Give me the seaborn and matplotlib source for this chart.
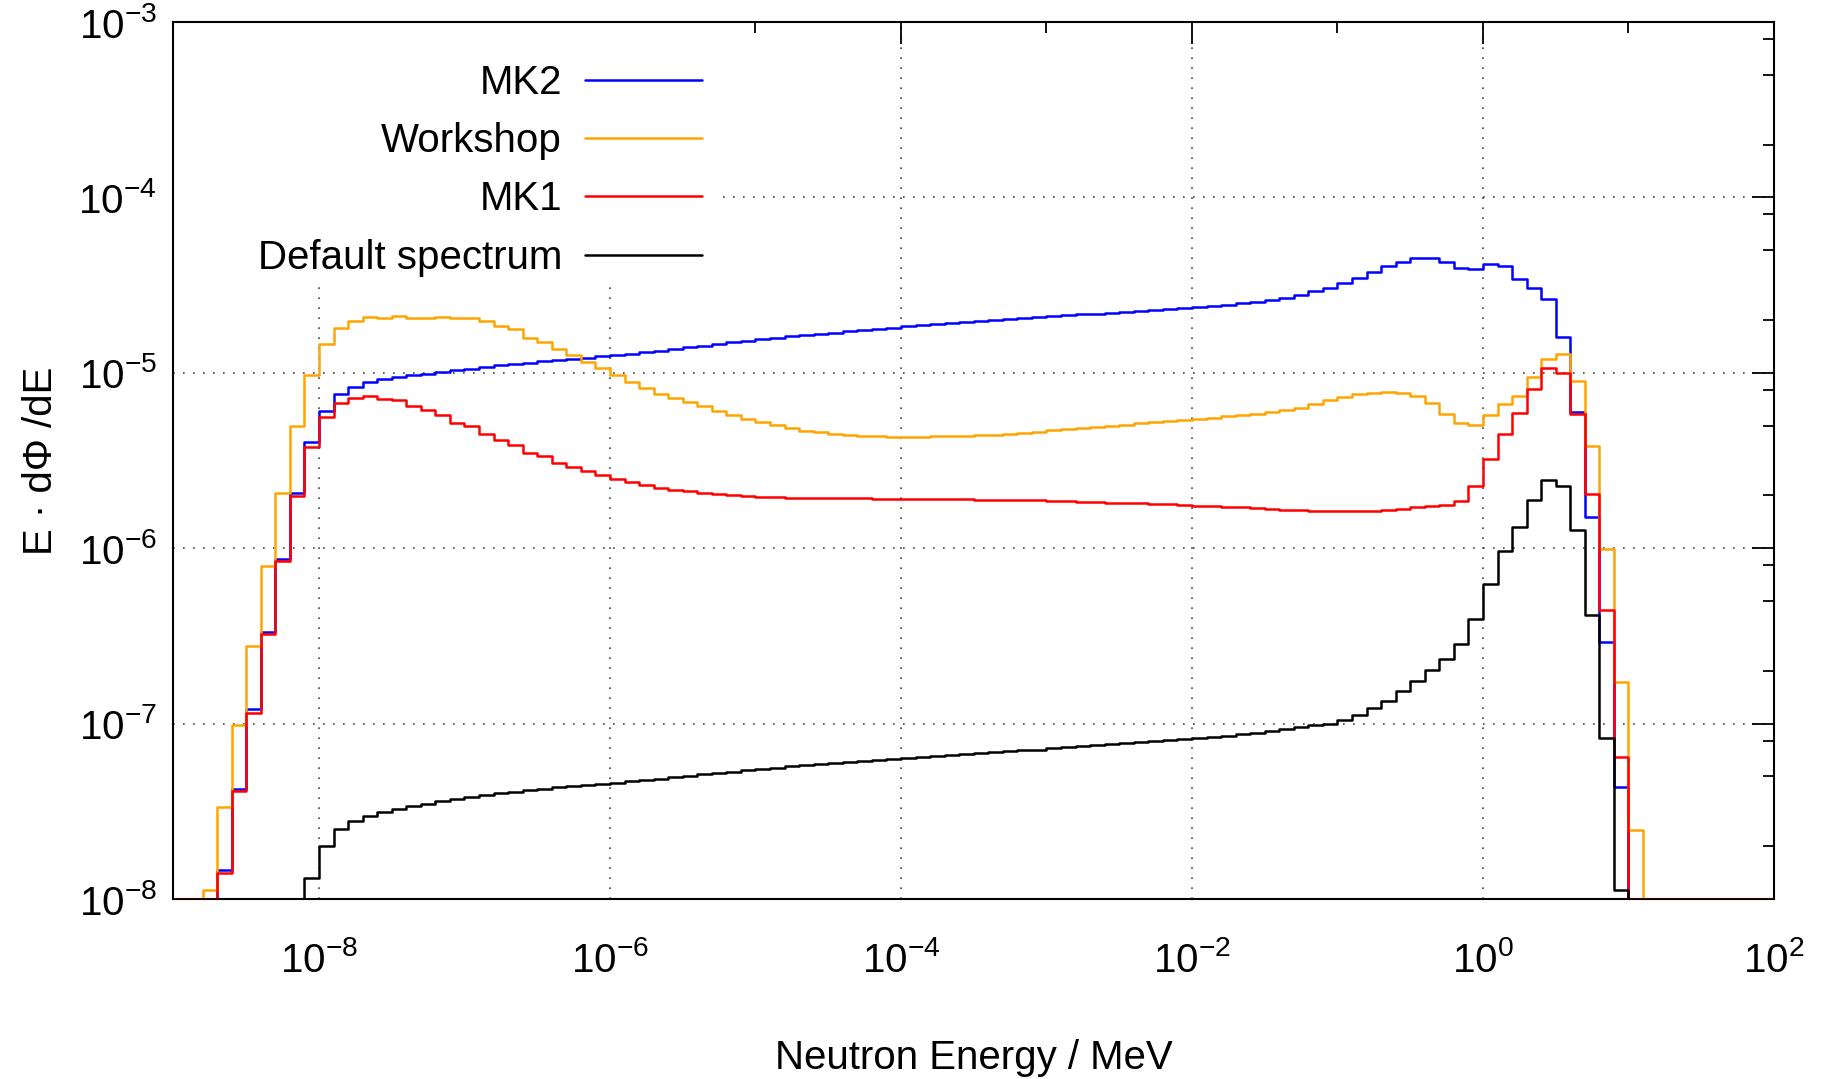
import numpy as np
import pandas as pd
import matplotlib
matplotlib.use("Agg")
import matplotlib.pyplot as plt
from matplotlib.patches import Rectangle
from matplotlib.ticker import FixedLocator, FuncFormatter, NullFormatter
import seaborn as sns

# ---------------- data ----------------
# 10 logarithmic bins per decade from 1e-9 MeV to 1e2 MeV (left edges + final edge)
energy_bin_edges = np.logspace(-9, 2, 111)

series_names = ["MK2", "Workshop", "MK1", "Default spectrum"]
series_colors = ["#0000ff", "#ffa500", "#ff0000", "#000000"]

# log10 of E*dPhi/dE per bin (-8 = on the lower border)
mk2_log10 = [
    -8, -8, -8, -7.832, -7.375, -6.918, -6.478, -6.060, -5.685, -5.397,
    -5.216, -5.123, -5.079, -5.055, -5.038, -5.024, -5.014, -5.005, -4.995, -4.986,
    -4.976, -4.966, -4.957, -4.950, -4.942, -4.935, -4.928, -4.921, -4.913, -4.906,
    -4.899, -4.892, -4.882, -4.873, -4.863, -4.853, -4.846, -4.837, -4.827, -4.817,
    -4.810, -4.800, -4.793, -4.786, -4.779, -4.772, -4.764, -4.757, -4.750, -4.743,
    -4.736, -4.728, -4.721, -4.714, -4.709, -4.702, -4.697, -4.694, -4.690, -4.682,
    -4.677, -4.672, -4.667, -4.662, -4.657, -4.652, -4.647, -4.642, -4.637, -4.632,
    -4.627, -4.619, -4.612, -4.602, -4.594, -4.584, -4.571, -4.556, -4.536, -4.514,
    -4.489, -4.459, -4.426, -4.391, -4.366, -4.348, -4.348, -4.368, -4.401, -4.406,
    -4.381, -4.393, -4.464, -4.514, -4.581, -4.794, -5.226, -5.822, -6.536, -7.363,
    -8, -8, -8, -8, -8, -8, -8, -8, -8, -8,
]

workshop_log10 = [
    -8, -8, -7.947, -7.478, -7.010, -6.558, -6.101, -5.683, -5.303, -5.014,
    -4.837, -4.745, -4.702, -4.683, -4.685, -4.678, -4.685, -4.685, -4.683, -4.690,
    -4.690, -4.707, -4.736, -4.750, -4.803, -4.822, -4.863, -4.899, -4.938, -4.974,
    -5.014, -5.053, -5.087, -5.120, -5.142, -5.168, -5.192, -5.219, -5.243, -5.264,
    -5.281, -5.300, -5.317, -5.329, -5.339, -5.349, -5.356, -5.361, -5.363, -5.365,
    -5.368, -5.365, -5.363, -5.361, -5.358, -5.356, -5.353, -5.348, -5.341, -5.336,
    -5.328, -5.323, -5.316, -5.308, -5.301, -5.296, -5.288, -5.283, -5.276, -5.271,
    -5.263, -5.256, -5.248, -5.241, -5.233, -5.223, -5.213, -5.198, -5.178, -5.153,
    -5.138, -5.120, -5.113, -5.108, -5.115, -5.133, -5.170, -5.233, -5.288, -5.298,
    -5.241, -5.178, -5.133, -5.025, -4.922, -4.890, -5.045, -5.416, -6.003, -6.762,
    -7.609, -8, -8, -8, -8, -8, -8, -8, -8, -8,
]

mk1_log10 = [
    -8, -8, -8, -7.849, -7.387, -6.937, -6.490, -6.072, -5.700, -5.421,
    -5.252, -5.175, -5.144, -5.130, -5.147, -5.156, -5.192, -5.214, -5.238, -5.284,
    -5.303, -5.349, -5.382, -5.409, -5.457, -5.476, -5.512, -5.536, -5.562, -5.584,
    -5.608, -5.625, -5.642, -5.656, -5.666, -5.675, -5.685, -5.690, -5.697, -5.702,
    -5.707, -5.709, -5.712, -5.714, -5.714, -5.716, -5.716, -5.716, -5.719, -5.719,
    -5.719, -5.719, -5.719, -5.721, -5.721, -5.724, -5.724, -5.724, -5.725, -5.727,
    -5.730, -5.732, -5.735, -5.737, -5.740, -5.742, -5.745, -5.747, -5.750, -5.752,
    -5.757, -5.760, -5.764, -5.767, -5.772, -5.777, -5.780, -5.784, -5.787, -5.789,
    -5.789, -5.789, -5.787, -5.782, -5.777, -5.767, -5.762, -5.752, -5.729, -5.644,
    -5.491, -5.348, -5.228, -5.095, -4.975, -5.000, -5.233, -5.689, -6.353, -7.188,
    -8, -8, -8, -8, -8, -8, -8, -8, -8, -8,
]

default_log10 = [
    -8, -8, -8, -8, -8, -8, -8, -8, -8, -7.880,
    -7.700, -7.600, -7.556, -7.525, -7.502, -7.486, -7.471, -7.457, -7.443, -7.431,
    -7.419, -7.407, -7.397, -7.388, -7.379, -7.371, -7.364, -7.357, -7.350, -7.344,
    -7.337, -7.330, -7.322, -7.314, -7.306, -7.298, -7.290, -7.282, -7.274, -7.266,
    -7.258, -7.251, -7.244, -7.237, -7.230, -7.223, -7.217, -7.211, -7.205, -7.199,
    -7.194, -7.189, -7.184, -7.178, -7.173, -7.168, -7.163, -7.158, -7.153, -7.148,
    -7.140, -7.135, -7.128, -7.120, -7.115, -7.108, -7.103, -7.098, -7.093, -7.088,
    -7.083, -7.075, -7.068, -7.060, -7.053, -7.043, -7.033, -7.020, -7.010, -7.000,
    -6.980, -6.950, -6.912, -6.870, -6.815, -6.757, -6.692, -6.629, -6.549, -6.406,
    -6.206, -6.015, -5.877, -5.727, -5.609, -5.644, -5.895, -6.378, -7.080, -7.947,
    -8, -8, -8, -8, -8, -8, -8, -8, -8, -8,
]

x_major_ticks = [1e-8, 1e-6, 1e-4, 1e-2, 1e0, 1e2]
x_minor_ticks = [1e-9, 1e-7, 1e-5, 1e-3, 1e-1, 1e1]
y_major_ticks = [1e-8, 1e-7, 1e-6, 1e-5, 1e-4, 1e-3]

# ---------------- build long-form table ----------------
frames = []
for name, vals in zip(series_names,
                      [mk2_log10, workshop_log10, mk1_log10, default_log10]):
    flux = 10.0 ** np.asarray(vals, dtype=float)
    frames.append(pd.DataFrame({
        "energy": energy_bin_edges,
        "flux": np.append(flux, flux[-1]),   # repeat last value for steps-post
        "series": name,
    }))
df = pd.concat(frames, ignore_index=True)

# ---------------- style ----------------
sns.set_theme(style="white")
plt.rcParams.update({
    "font.family": ["Liberation Sans", "DejaVu Sans"],
    "mathtext.fontset": "custom",
    "mathtext.rm": "Liberation Sans",
    "mathtext.it": "Liberation Sans:italic",
    "mathtext.bf": "Liberation Sans:bold",
    "font.size": 29,
    "axes.edgecolor": "black",
    "text.color": "black",
    "axes.labelcolor": "black",
    "xtick.color": "black",
    "ytick.color": "black",
})

fig = plt.figure(figsize=(18.23, 10.79), dpi=100)
ax = fig.add_axes([0.09517, 0.16682, 0.87795, 0.81279])

sns.lineplot(
    data=df, x="energy", y="flux", hue="series",
    hue_order=series_names, palette=dict(zip(series_names, series_colors)),
    estimator=None, sort=False, drawstyle="steps-post",
    linewidth=1.8, ax=ax, zorder=3,
)

ax.set_xscale("log")
ax.set_yscale("log")
ax.set_xlim(1e-9, 1e2)
ax.set_ylim(1e-8, 1e-3)

fmt = FuncFormatter(lambda v, p: r"$\mathdefault{10^{%d}}$" % int(round(np.log10(v))))
ax.xaxis.set_major_locator(FixedLocator(x_major_ticks))
ax.xaxis.set_minor_locator(FixedLocator(x_minor_ticks))
ax.xaxis.set_major_formatter(fmt)
ax.xaxis.set_minor_formatter(NullFormatter())
ax.yaxis.set_major_locator(FixedLocator(y_major_ticks))
ax.yaxis.set_minor_locator(FixedLocator(
    [m * d for d in [1e-8, 1e-7, 1e-6, 1e-5, 1e-4] for m in (2, 5, 8)]))
ax.yaxis.set_major_formatter(fmt)
ax.yaxis.set_minor_formatter(NullFormatter())

ax.tick_params(which="both", direction="in", top=True, right=True,
               width=1.3, colors="black", labelsize=29)
ax.tick_params(which="major", length=16)
ax.tick_params(which="minor", length=8)
ax.tick_params(axis="x", which="major", pad=30)
ax.tick_params(axis="y", which="major", pad=12)

for sp in ax.spines.values():
    sp.set_linewidth(1.5)
    sp.set_color("black")

ax.set_axisbelow(True)
ax.grid(True, which="major", axis="both", linestyle=(0, (1, 5)),
        linewidth=1.2, color="#444444")

ax.set_xlabel("Neutron Energy / MeV", fontsize=29, labelpad=43)
ax.set_ylabel("E · dΦ /dE", fontsize=29, labelpad=13)

# opaque key area (hides grid behind the key, like the original)
ax.add_patch(Rectangle((0.0, 0.6978), 0.3433, 0.3022, transform=ax.transAxes,
                       facecolor="white", edgecolor="none", zorder=1))

sns.move_legend(
    ax, "upper right", bbox_to_anchor=(0.3377, 0.9662), borderaxespad=0,
    title=None, frameon=False, markerfirst=False, fontsize=29,
    handlelength=2.9, handletextpad=0.57, labelspacing=0.506, borderpad=0.3,
)
for line in ax.get_legend().get_lines():
    line.set_linewidth(1.8)

fig.savefig("out.png", dpi=100)
